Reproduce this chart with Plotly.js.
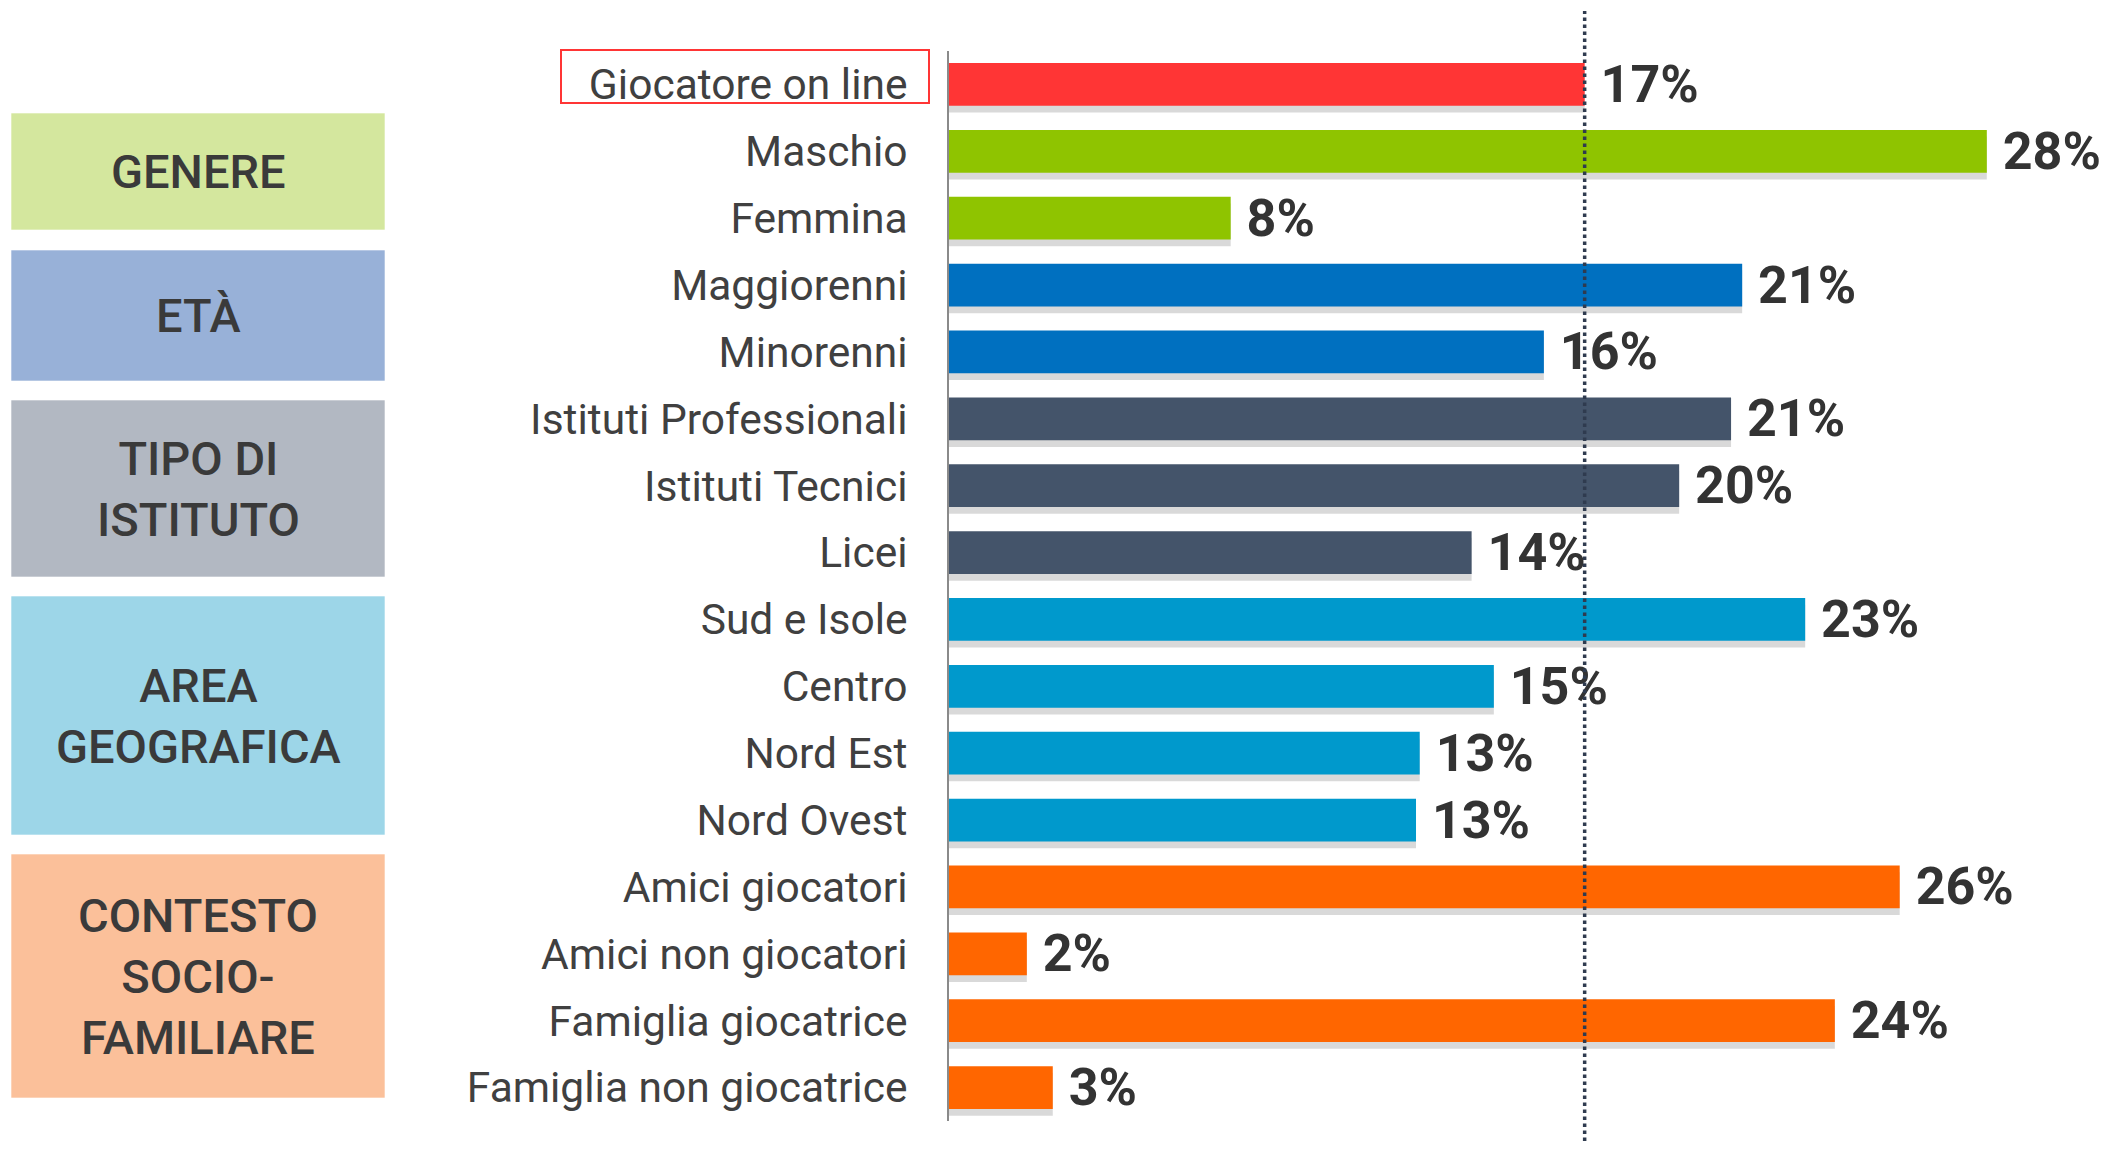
<!DOCTYPE html>
<html>
<head>
<meta charset="utf-8">
<script src="https://cdn.plot.ly/plotly-3.0.1.min.js"></script>
<style>html,body{margin:0;padding:0;background:#fff;}#chart{width:2105px;height:1151px;}</style>
</head>
<body>
<div id="chart"></div>
<script>
// ---- data ----
const categories = ['Giocatore on line','Maschio','Femmina','Maggiorenni','Minorenni',
  'Istituti Professionali','Istituti Tecnici','Licei','Sud e Isole','Centro','Nord Est','Nord Ovest',
  'Amici giocatori','Amici non giocatori','Famiglia giocatrice','Famiglia non giocatrice'];
const values = [17.15, 28.0, 7.6, 21.4, 16.05, 21.1, 19.7, 14.1, 23.1, 14.7, 12.7, 12.6, 25.65, 2.1, 23.9, 2.8];
const valueLabels = ['17%','28%','8%','21%','16%','21%','20%','14%','23%','15%','13%','13%','26%','2%','24%','3%'];
const groupOf = ['tot','gen','gen','eta','eta','ist','ist','ist','area','area','area','area','ctx','ctx','ctx','ctx'];
const groupColors = {tot:'#FF3535', gen:'#8FC400', eta:'#0070C0', ist:'#44546A', area:'#0099CC', ctx:'#FF6600'};
const groupBoxes = [
  {text:'GENERE', color:'#D4E79E', y0:113, y1:230},
  {text:'ETÀ', color:'#98B1D8', y0:250, y1:381},
  {text:'TIPO DI<br>ISTITUTO', color:'#B2B8C2', y0:400, y1:577},
  {text:'AREA<br>GEOGRAFICA', color:'#9DD6E8', y0:596, y1:835},
  {text:'CONTESTO<br>SOCIO-<br>FAMILIARE', color:'#FBC09A', y0:854, y1:1098}
];

// ---- layout geometry ----
const W = 2105, H = 1151;
const M = {l:949, r:7, t:51, b:30};
const xMax = 31;
const pw = W - M.l - M.r, ph = H - M.t - M.b;
const px2x = px => (px - M.l) / pw;
const py2y = py => (H - M.b - py) / ph;

const barColors = groupOf.map(g => groupColors[g]);

const shadow = {
  type:'bar', orientation:'h', x: values, y: categories,
  width: 0.64, offset: -0.32 + 0.1,
  marker:{color:'rgba(0,0,0,0.15)', line:{width:0}},
  hoverinfo:'skip', showlegend:false
};
const bars = {
  type:'bar', orientation:'h', x: values, y: categories,
  width: 0.64,
  marker:{color: barColors, line:{width:0}},
  text: valueLabels.map(t => '\u00a0' + t),
  textposition:'outside', cliponaxis:false, constraintext:'none',
  textfont:{family:'Roboto', size:52, color:'#333333', weight:'bold'},
  showlegend:false
};

const shapes = [];
const annotations = [];
groupBoxes.forEach(b => {
  shapes.push({type:'rect', xref:'paper', yref:'paper',
    x0: px2x(11), x1: px2x(385), y0: py2y(b.y1), y1: py2y(b.y0),
    fillcolor: b.color, line:{width:1, color:'rgba(255,255,255,0.6)'}, layer:'below'});
  annotations.push({xref:'paper', yref:'paper', x: px2x(198), y: py2y((b.y0+b.y1)/2),
    text: b.text, showarrow:false, xanchor:'center', yanchor:'middle', align:'center',
    font:{family:'Roboto', size:47, color:'#3A3A3A', weight:500}});
});
// red frame around the reference category
shapes.push({type:'rect', xref:'paper', yref:'paper',
  x0: px2x(561), x1: px2x(929), y0: py2y(103), y1: py2y(50),
  line:{color:'#FF3535', width:2}, fillcolor:'rgba(0,0,0,0)'});
// dotted reference line at the reference value
shapes.push({type:'line', xref:'paper', yref:'paper',
  x0: values[0]/xMax, x1: values[0]/xMax, y0: py2y(1141), y1: py2y(11),
  line:{color:'#2F3B4F', width:3.5, dash:'dot'}, layer:'above'});

const layout = {
  width: W, height: H,
  margin: M,
  paper_bgcolor:'#ffffff', plot_bgcolor:'#ffffff',
  barmode:'overlay',
  bargap: 0.36,
  xaxis:{range:[0, xMax], visible:false, showgrid:false, zeroline:false, fixedrange:true},
  yaxis:{type:'category', autorange:'reversed', showline:true, linecolor:'#8A8A8A', linewidth:2,
    ticks:'', ticklabelstandoff:31, showgrid:false, zeroline:false,
    tickfont:{family:'Roboto', size:42.5, color:'#404040'}},
  shapes: shapes,
  annotations: annotations,
  font:{family:'Roboto'}
};

Plotly.newPlot('chart', [shadow, bars], layout, {displayModeBar:false, staticPlot:true});
</script>
</body>
</html>
